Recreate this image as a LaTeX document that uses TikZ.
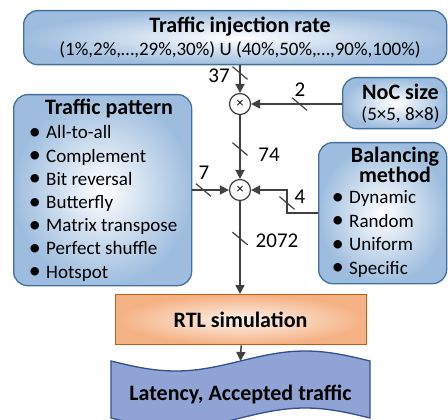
\documentclass[tikz,border=0pt]{standalone}
\usepackage{fontspec}
\setmainfont{Carlito}
\usetikzlibrary{arrows.meta,calc}
\definecolor{bluefill}{RGB}{158,189,222}
\definecolor{blueline}{RGB}{65,113,156}
\definecolor{orfill}{RGB}{244,177,131}
\definecolor{orline}{RGB}{197,90,17}
\definecolor{tapefill}{RGB}{143,163,212}
\definecolor{tapeline}{RGB}{52,78,142}
\definecolor{conn}{RGB}{64,64,64}
\tikzset{
  bluebox/.style={draw=blueline, line width=1.3pt, rounded corners=14pt,
    inner color=white, outer color=bluefill, inner sep=0pt, anchor=north west},
  rtlbox/.style={draw=orline, line width=1.3pt, inner color=white!85!orfill,
    outer color=orfill, inner sep=0pt, anchor=north west},
  tapestyle/.style={draw=tapeline, fill=tapefill, line width=1.3pt},
  mult/.style={circle, draw=conn, fill=white, line width=1.2pt, minimum size=21pt,
    inner sep=0pt, font=\fontsize{14}{14}\selectfont},
  arrowline/.style={draw=conn, line width=1.5pt, -{Triangle[length=9pt,width=9pt]}},
  slashline/.style={draw=conn, line width=1.2pt},
  ttl/.style={anchor=base, inner sep=0pt, font=\fontsize{22}{26}\selectfont\bfseries},
  sub/.style={anchor=base, inner sep=0pt, font=\fontsize{19}{22}\selectfont},
  itm/.style={anchor=base west, inner sep=0pt, font=\fontsize{19}{22}\selectfont},
  lbl/.style={inner sep=0pt, font=\fontsize{21}{24}\selectfont},
}
\newcommand\bul[1]{\makebox[17.3pt][l]{\raisebox{-0.5pt}{\fontsize{24}{24}\selectfont •}}#1}
\newcommand\slashat[1]{\draw[slashline] ($(#1)+(-7.5,-6.3)$) -- ($(#1)+(7.5,6.3)$);}
\begin{document}
\begin{tikzpicture}[x=1pt,y=-1pt]
\useasboundingbox (0,0) rectangle (448,420);
\clip (0,0) rectangle (448,420);

% boxes
\node[bluebox, minimum width=423pt, minimum height=54pt] (inj) at (23,10) {};
\node[ttl] (injt) at (240,33) {Traffic injection rate};
\node[sub] (injs) at (240,56) {(1\%,2\%,…,29\%,30\%) U (40\%,50\%,…,90\%,100\%)};

\node[bluebox, minimum width=104pt, minimum height=51pt] (noc) at (342,77) {};
\node[ttl] (noct) at (400.5,100) {NoC size};
\node[sub] (nocs) at (400.5,121) {(5×5, 8×8)};

\node[bluebox, minimum width=178pt, minimum height=191pt] (pat) at (13,94) {};
\node[ttl] (patt) at (109,115) {Traffic pattern};
\node[itm] (p1) at (28.7,139) {\bul{All-to-all}};
\node[itm] (p2) at (28.7,162.2) {\bul{Complement}};
\node[itm] (p3) at (28.7,185.3) {\bul{Bit reversal}};
\node[itm] (p4) at (28.7,208.5) {\bul{Butterfly}};
\node[itm] (p5) at (28.7,231.7) {\bul{Matrix transpose}};
\node[itm] (p6) at (28.7,254.8) {\bul{Perfect shuffle}};
\node[itm] (p7) at (28.7,278) {\bul{Hotspot}};

\node[bluebox, minimum width=128pt, minimum height=141pt] (bal) at (318,142) {};
\node[inner sep=0pt, align=center, font=\fontsize{22}{19}\selectfont\bfseries] (balt) at (395,165) {Balancing\\method};
\node[itm] (b1) at (331.7,204) {\bul{Dynamic}};
\node[itm] (b2) at (331.7,227.3) {\bul{Random}};
\node[itm] (b3) at (331.7,250.6) {\bul{Uniform}};
\node[itm] (b4) at (331.7,274) {\bul{Specific}};

\node[rtlbox, minimum width=251pt, minimum height=50pt] (rtl) at (115,294) {};
\node[ttl] (rtlt) at (240.5,327) {RTL simulation};

% output tape
\filldraw[tapestyle] plot[domain=111:370,samples=60,smooth] (\x,{361+10*sin(1.389961*(\x-111))})
  -- plot[domain=370:111,samples=60,smooth] (\x,{418+10*sin(1.389961*(\x-111))}) -- cycle;
\coordinate (tapetop) at (240.5,361);
\node[ttl] (out) at (240.5,400) {Latency, Accepted traffic};

% multipliers
\node[mult] (m1) at (240,104) {×};
\node[mult] (m2) at (240,190) {×};

% connectors
\draw[arrowline] (m1 |- inj.south) -- (m1.north);
\draw[arrowline] (noc.west |- m1) -- (m1.east);
\draw[arrowline] (m1.south) -- (m2.north);
\draw[arrowline] (pat.east |- m2) -- (m2.west);
\coordinate (bk) at (287,213);
\draw[arrowline] (bk -| bal.west) -- (bk) |- (m2.east);
\draw[arrowline] (m2.south) -- (m2.south |- rtl.north);
\draw[arrowline] (rtl.south) -- (tapetop);

% bus-width slashes
\coordinate (s37) at (240,73);
\coordinate (s2) at (299.5,104);
\coordinate (s74) at (240,149);
\coordinate (s7) at (203.5,190);
\coordinate (s4) at (287,203);
\coordinate (s2072) at (240,238.5);
\slashat{s37}
\slashat{s2}
\slashat{s74}
\slashat{s7}
\slashat{s4}
\slashat{s2072}

% labels
\node[lbl] (l37) at (219,76) {37};
\node[lbl] (l2) at (300,90) {2};
\node[lbl] (l74) at (269,155) {74};
\node[lbl] (l7) at (204,173) {7};
\node[lbl] (l4) at (300,197) {4};
\node[lbl] (l2072) at (277,241) {2072};
\end{tikzpicture}
\end{document}
